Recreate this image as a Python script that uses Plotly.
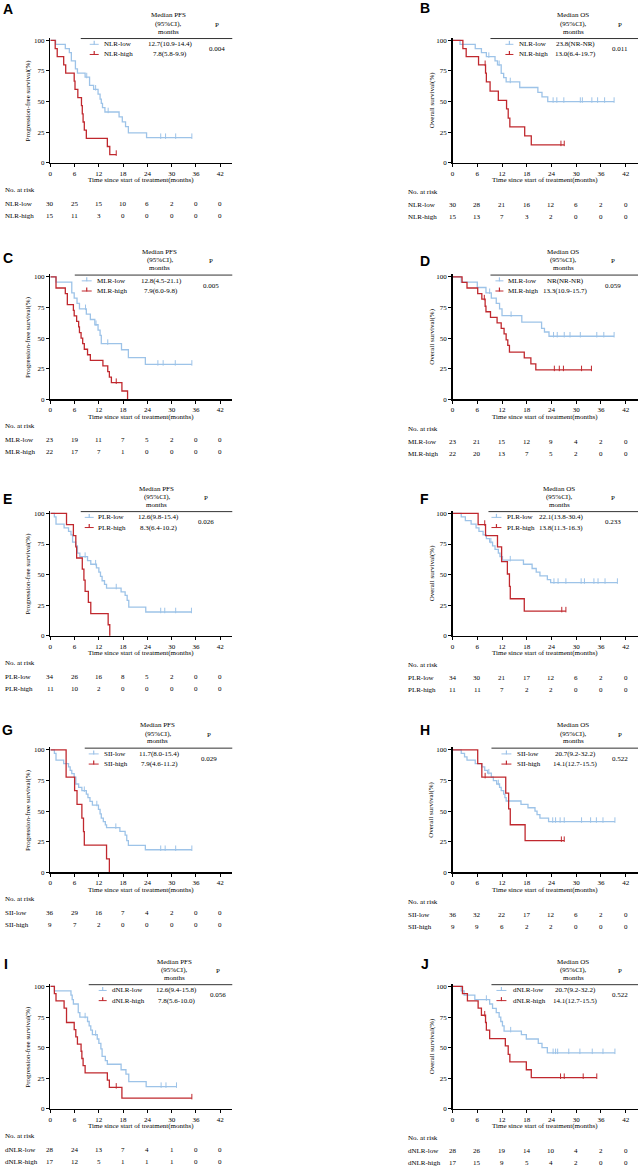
import plotly.graph_objects as go

W, H = 638, 1171
BLUE = "#9DC3E8"
RED = "#C0282E"
FONT = "Liberation Serif"
FS = 7

# ---------------- data ----------------
TICKS = [0, 6, 12, 18, 24, 30, 36, 42]
Y_TICKS = [0, 25, 50, 75, 100]
LETTERS = ["A", "B", "C", "D", "E", "F", "G", "H", "I", "J"]
MARKERS = ["NLR", "NLR", "MLR", "MLR", "PLR", "PLR", "SII", "SII", "dNLR", "dNLR"]
ENDPOINT = ["PFS", "OS", "PFS", "OS", "PFS", "OS", "PFS", "OS", "PFS", "OS"]
Y_TITLES = {"PFS": "Progression-free survival(%)", "OS": "Overall survival(%)"}
X_TITLE = "Time since start of treatment(months)"

MED_LOW = ["12.7(10.9-14.4)", "23.8(NR-NR)", "12.8(4.5-21.1)", "NR(NR-NR)", "12.6(9.8-15.4)",
           "22.1(13.8-30.4)", "11.7(8.0-15.4)", "20.7(9.2-32.2)", "12.6(9.4-15.8)", "20.7(9.2-32.2)"]
MED_HIGH = ["7.8(5.8-9.9)", "13.0(6.4-19.7)", "7.9(6.0-9.8)", "13.3(10.9-15.7)", "8.3(6.4-10.2)",
            "13.8(11.3-16.3)", "7.9(4.6-11.2)", "14.1(12.7-15.5)", "7.8(5.6-10.0)", "14.1(12.7-15.5)"]
P_VALUES = ["0.004", "0.011", "0.005", "0.059", "0.026", "0.233", "0.029", "0.522", "0.056", "0.522"]

A_low_t = [1.3, 3.7, 4.7, 5.2, 6.2, 6.7, 8.6, 9.7, 10.7, 11.8, 12.3, 12.6, 12.9, 13.5, 17.0, 17.8, 18.6, 19.3, 23.8]
A_low_s = [96.7, 93.3, 90.0, 83.3, 76.7, 73.3, 70.0, 63.3, 60.0, 56.0, 52.0, 48.5, 45.0, 41.5, 37.5, 33.5, 29.5, 24.5, 20.5]
A_low_c = [9.0, 11.2, 14.3, 27.3, 28.5, 31.0, 35.0]
A_low_end = 35.0
A_high_t = [1.2, 1.7, 3.3, 3.8, 5.9, 6.1, 6.8, 7.7, 7.9, 8.1, 8.4, 8.9, 14.1, 14.7]
A_high_s = [93.3, 86.7, 80.0, 73.3, 66.7, 60.0, 53.3, 46.7, 40.0, 33.3, 26.7, 20.0, 13.3, 6.7]
A_high_c = [16.3]
A_high_end = 16.3

B_low_t = [1.8, 5.5, 7.0, 8.2, 10.3, 10.9, 11.8, 12.4, 13.0, 16.3, 20.7, 21.7, 23.1]
B_low_s = [96.7, 93.3, 90.0, 86.7, 83.3, 80.0, 73.0, 69.5, 66.0, 61.5, 57.5, 53.8, 50.0]
B_low_c = [8.8, 11.3, 14.0, 24.4, 25.3, 27.0, 31.0, 31.5, 33.8, 35.2, 36.9, 39.2]
B_low_end = 39.2
B_high_t = [2.5, 3.3, 6.3, 8.0, 8.2, 9.1, 11.1, 13.1, 13.5, 13.9, 17.5, 19.1]
B_high_s = [93.3, 86.7, 80.0, 73.3, 66.0, 58.5, 51.0, 44.0, 36.5, 29.3, 22.0, 14.6]
B_high_c = [7.9, 26.3, 27.1]
B_high_end = 27.1

C_low_t = [1.4, 5.3, 5.9, 6.6, 7.2, 8.9, 9.9, 11.0, 11.8, 12.3, 12.6, 17.6, 19.3, 23.5]
C_low_s = [95.7, 87.0, 82.6, 78.3, 73.9, 69.6, 65.2, 60.9, 56.5, 52.2, 45.5, 40.5, 34.0, 28.5]
C_low_c = [8.7, 11.3, 14.2, 26.6, 27.9, 30.9, 35.0]
C_low_end = 35.0
C_high_t = [1.4, 3.7, 4.2, 5.7, 5.9, 6.5, 7.0, 7.2, 7.6, 8.0, 8.4, 9.2, 9.9, 13.0, 14.2, 14.6, 15.1, 17.7, 19.1]
C_high_s = [90.9, 86.4, 77.3, 72.7, 68.2, 63.6, 59.1, 54.5, 50.0, 45.5, 40.9, 36.4, 31.8, 27.3, 22.7, 18.2, 13.6, 6.8, 0.0]
C_high_c = [16.3]
C_high_end = 19.1

D_low_t = [2.1, 6.0, 8.1, 9.4, 10.6, 11.4, 12.0, 16.8, 21.6, 22.3, 23.4]
D_low_s = [95.7, 91.3, 87.0, 82.6, 78.3, 73.9, 68.3, 63.0, 58.0, 55.0, 51.5]
D_low_c = [9.0, 14.2, 24.5, 25.4, 27.1, 28.5, 31.0, 35.0, 36.7, 39.2]
D_low_end = 39.2
D_high_t = [2.3, 3.5, 6.1, 7.1, 7.9, 8.1, 9.2, 10.8, 11.8, 12.5, 13.0, 13.4, 13.8, 17.4, 19.0, 20.2]
D_high_s = [95.5, 90.9, 86.4, 81.8, 76.0, 71.5, 67.0, 62.5, 58.0, 53.5, 48.5, 44.0, 38.5, 33.8, 29.0, 24.0]
D_high_c = [7.7, 24.7, 25.9, 26.9, 31.3, 33.7]
D_high_end = 33.7

E_low_t = [1.0, 1.4, 3.4, 4.5, 5.1, 5.5, 6.3, 6.7, 7.3, 9.2, 10.0, 11.4, 12.0, 12.4, 12.8, 13.4, 13.9, 17.5, 18.5, 19.0, 19.4, 23.6]
E_low_s = [97.1, 91.2, 88.2, 85.3, 82.4, 76.5, 73.5, 67.6, 64.7, 61.5, 58.5, 55.5, 52.0, 48.5, 45.0, 42.0, 39.0, 36.0, 33.0, 29.0, 23.5, 19.5]
E_low_c = [8.6, 11.2, 16.3, 27.3, 28.3, 31.0, 34.9]
E_low_end = 34.9
E_high_t = [4.0, 5.7, 6.3, 6.5, 7.9, 8.3, 8.6, 9.4, 10.0, 14.3, 14.7]
E_high_s = [90.9, 81.8, 72.7, 63.6, 54.5, 45.5, 36.4, 27.3, 18.2, 9.1, 0.0]
E_high_c = []
E_high_end = 14.7

F_low_t = [2.1, 3.1, 4.5, 5.7, 6.4, 7.4, 8.2, 9.0, 9.7, 10.3, 11.1, 11.5, 12.1, 17.2, 19.3, 20.3, 21.2, 23.0, 23.8]
F_low_s = [97.1, 94.1, 91.2, 88.2, 85.3, 82.4, 79.4, 76.5, 73.5, 70.6, 67.6, 64.7, 61.8, 58.5, 55.0, 52.0, 49.0, 46.0, 43.5]
F_low_c = [9.3, 14.0, 24.6, 25.6, 27.5, 31.2, 32.0, 34.3, 35.3, 37.0, 40.0]
F_low_end = 40.0
F_high_t = [6.2, 8.0, 10.9, 11.9, 13.3, 13.8, 14.0, 17.4]
F_high_s = [90.9, 81.8, 72.7, 60.6, 50.5, 40.4, 30.3, 20.2]
F_high_c = [7.8, 26.5, 27.5]
F_high_end = 27.5

G_low_t = [1.0, 1.4, 3.3, 4.5, 4.9, 5.3, 5.9, 6.3, 7.0, 7.8, 8.9, 9.3, 9.8, 10.4, 11.9, 12.3, 12.6, 13.1, 13.6, 13.9, 17.2, 18.5, 18.9, 19.3, 23.5]
G_low_s = [97.2, 91.7, 88.9, 86.1, 83.3, 80.6, 77.8, 72.2, 69.4, 66.7, 63.9, 61.0, 58.0, 55.0, 51.5, 47.8, 44.4, 41.5, 38.8, 36.5, 33.5, 30.5, 26.0, 22.0, 18.5]
G_low_c = [8.4, 11.5, 16.2, 27.3, 28.4, 31.0, 35.0]
G_low_end = 35.0
G_high_t = [3.9, 6.0, 6.6, 7.8, 8.2, 8.4, 13.9, 14.6]
G_high_s = [77.8, 66.7, 55.6, 44.4, 33.3, 22.2, 11.1, 0.0]
G_high_c = []
G_high_end = 14.6

H_low_t = [2.1, 2.9, 3.5, 5.5, 7.1, 7.8, 8.5, 9.4, 9.9, 10.7, 11.4, 11.8, 12.4, 12.7, 13.0, 16.6, 18.3, 20.0, 20.5, 21.2, 23.3]
H_low_s = [97.2, 94.4, 91.7, 88.9, 86.1, 83.3, 81.0, 77.8, 75.0, 72.2, 69.4, 66.7, 63.9, 61.0, 58.3, 55.5, 52.8, 50.0, 47.2, 44.4, 41.5]
H_low_c = [8.8, 11.1, 24.3, 25.0, 26.1, 27.1, 31.3, 33.5, 34.9, 36.5, 39.4]
H_low_end = 39.4
H_high_t = [6.1, 7.1, 12.9, 13.6, 14.0, 17.6]
H_high_s = [88.9, 77.8, 64.8, 51.9, 38.9, 25.9]
H_high_c = [7.9, 26.4, 27.1]
H_high_end = 27.1

I_low_t = [1.0, 5.1, 5.4, 5.7, 6.9, 7.3, 9.2, 9.6, 10.0, 10.4, 11.6, 12.0, 12.5, 12.8, 13.6, 14.1, 17.5, 18.7, 19.4, 23.7]
I_low_s = [96.4, 92.9, 89.3, 85.7, 78.6, 75.0, 71.4, 67.9, 64.3, 60.7, 57.1, 53.6, 49.0, 43.0, 39.5, 36.5, 32.0, 28.5, 22.3, 18.2]
I_low_c = [8.6, 11.2, 27.4, 28.6, 31.2]
I_low_end = 31.2
I_high_t = [1.0, 1.4, 3.4, 4.0, 5.9, 6.3, 6.7, 7.6, 7.8, 8.1, 8.6, 14.1, 14.6, 17.7]
I_high_s = [94.1, 88.2, 82.4, 70.6, 64.7, 58.8, 52.9, 47.1, 41.2, 35.3, 29.4, 23.5, 17.6, 8.8]
I_high_c = [16.3, 35.0]
I_high_end = 35.0

J_low_t = [2.1, 2.8, 5.4, 9.0, 9.7, 10.6, 11.3, 11.7, 12.1, 12.5, 16.7, 17.9, 20.8, 21.7, 23.0]
J_low_s = [96.4, 92.9, 89.3, 85.7, 82.1, 78.6, 75.0, 71.4, 67.9, 63.5, 60.7, 57.1, 53.6, 50.0, 45.8]
J_low_c = [8.2, 14.1, 24.4, 25.0, 25.5, 28.2, 30.9, 33.9, 36.5, 39.4]
J_low_end = 39.4
J_high_t = [2.4, 3.6, 6.2, 7.0, 8.0, 8.2, 9.0, 12.8, 13.5, 13.9, 17.9, 19.1]
J_high_s = [94.1, 88.2, 82.4, 76.5, 70.6, 64.3, 57.4, 51.5, 44.6, 38.5, 32.0, 25.5]
J_high_c = [7.8, 26.2, 27.1, 31.7, 35.0]
J_high_end = 35.0

A_risk_low = [30, 25, 15, 10, 6, 2, 0, 0]
A_risk_high = [15, 11, 3, 0, 0, 0, 0, 0]
B_risk_low = [30, 28, 21, 16, 12, 6, 2, 0]
B_risk_high = [15, 13, 7, 3, 2, 0, 0, 0]
C_risk_low = [23, 19, 11, 7, 5, 2, 0, 0]
C_risk_high = [22, 17, 7, 1, 0, 0, 0, 0]
D_risk_low = [23, 21, 15, 12, 9, 4, 2, 0]
D_risk_high = [22, 20, 13, 7, 5, 2, 0, 0]
E_risk_low = [34, 26, 16, 8, 5, 2, 0, 0]
E_risk_high = [11, 10, 2, 0, 0, 0, 0, 0]
F_risk_low = [34, 30, 21, 17, 12, 6, 2, 0]
F_risk_high = [11, 11, 7, 2, 2, 0, 0, 0]
G_risk_low = [36, 29, 16, 7, 4, 2, 0, 0]
G_risk_high = [9, 7, 2, 0, 0, 0, 0, 0]
H_risk_low = [36, 32, 22, 17, 12, 6, 2, 0]
H_risk_high = [9, 9, 6, 2, 2, 0, 0, 0]
I_risk_low = [28, 24, 13, 7, 4, 1, 0, 0]
I_risk_high = [17, 12, 5, 1, 1, 1, 0, 0]
J_risk_low = [28, 26, 19, 14, 10, 4, 2, 0]
J_risk_high = [17, 15, 9, 5, 4, 2, 0, 0]

CURVES = [
    ((A_low_t, A_low_s, A_low_c, A_low_end), (A_high_t, A_high_s, A_high_c, A_high_end)),
    ((B_low_t, B_low_s, B_low_c, B_low_end), (B_high_t, B_high_s, B_high_c, B_high_end)),
    ((C_low_t, C_low_s, C_low_c, C_low_end), (C_high_t, C_high_s, C_high_c, C_high_end)),
    ((D_low_t, D_low_s, D_low_c, D_low_end), (D_high_t, D_high_s, D_high_c, D_high_end)),
    ((E_low_t, E_low_s, E_low_c, E_low_end), (E_high_t, E_high_s, E_high_c, E_high_end)),
    ((F_low_t, F_low_s, F_low_c, F_low_end), (F_high_t, F_high_s, F_high_c, F_high_end)),
    ((G_low_t, G_low_s, G_low_c, G_low_end), (G_high_t, G_high_s, G_high_c, G_high_end)),
    ((H_low_t, H_low_s, H_low_c, H_low_end), (H_high_t, H_high_s, H_high_c, H_high_end)),
    ((I_low_t, I_low_s, I_low_c, I_low_end), (I_high_t, I_high_s, I_high_c, I_high_end)),
    ((J_low_t, J_low_s, J_low_c, J_low_end), (J_high_t, J_high_s, J_high_c, J_high_end)),
]
RISKS = [(A_risk_low, A_risk_high), (B_risk_low, B_risk_high), (C_risk_low, C_risk_high),
         (D_risk_low, D_risk_high), (E_risk_low, E_risk_high), (F_risk_low, F_risk_high),
         (G_risk_low, G_risk_high), (H_risk_low, H_risk_high), (I_risk_low, I_risk_high),
         (J_risk_low, J_risk_high)]

# ---------------- layout (pixel positions) ----------------
ROW = 237.55
X_DOM_PX = {0: (48.5, 231.0), 1: (452.0, 638.0)}
# header centre, P centre, line start, marker start, marker end, label x, letter x, letter y
LEG = [
    (167, 216, 79, 88, 97, 100, 6, 8),
    (573, 620, 490, 505, 513, 517, 424, 7),
    (158, 210, 73, 80, 90, 93, 6, 21),
    (563, 613, 490, 495, 503, 506, 424, 24),
    (155, 205, 79, 83, 92, 94, 6, 25),
    (559, 613, 488, 491, 501, 505, 424, 25),
    (156, 208, 83, 87, 97, 100, 6, 19),
    (573, 620, 491, 501, 511, 515, 424, 19),
    (173, 217, 87, 97, 105, 108, 4, 17),
    (573, 620, 491, 496, 506, 511, 424, 17),
]

fig = go.Figure()
annotations = []
shapes = []


def pa(x, y, text, size=FS, xanchor="center", family=FONT, angle=0, xref="paper"):
    annotations.append(dict(
        x=x / W if xref == "paper" else x, y=1 - y / H, xref=xref, yref="paper",
        text=text, showarrow=False, xanchor=xanchor, yanchor="middle", textangle=angle,
        font=dict(size=size, family=family, color="black")))


def pline(x0, y0, x1, y1, color, width):
    shapes.append(dict(type="line", xref="paper", yref="paper", x0=x0 / W, x1=x1 / W,
                       y0=1 - y0 / H, y1=1 - y1 / H, line=dict(color=color, width=width)))


def surv_at(ts, ss, t):
    v = 100.0
    for a, b in zip(ts, ss):
        if a <= t:
            v = b
    return v


for i in range(10):
    r, c = divmod(i, 2)
    b = r * ROW
    ax = i + 1
    xk = "x" if ax == 1 else f"x{ax}"
    yk = "y" if ax == 1 else f"y{ax}"
    x0p, x1p = X_DOM_PX[c]
    ytop = b + 39.5 - 2 * 1.23
    ybot = b + 162.5
    fig.layout[f"xaxis{'' if ax == 1 else ax}"] = dict(
        domain=[x0p / W, x1p / W], range=[0, 45], tickvals=TICKS, ticks="outside", ticklen=3,
        tickwidth=1, tickcolor="black", showline=True, linecolor="black", linewidth=1.5,
        showgrid=False, zeroline=False, anchor=yk,
        tickfont=dict(size=FS, family=FONT, color="black"))
    fig.layout[f"yaxis{'' if ax == 1 else ax}"] = dict(
        domain=[1 - ybot / H, 1 - ytop / H], range=[0, 102], tickvals=Y_TICKS, ticks="outside",
        ticklen=3, tickwidth=1, tickcolor="black", showline=True, linecolor="black",
        linewidth=1.5, showgrid=False, zeroline=False, anchor=xk,
        tickfont=dict(size=FS, family=FONT, color="black"))

    for (ts, ss, cs, end), col in zip(CURVES[i], (BLUE, RED)):
        xs = [0] + list(ts) + [end]
        ys = [100] + list(ss) + [ss[-1]]
        fig.add_trace(go.Scatter(x=xs, y=ys, mode="lines", line=dict(color=col, width=1.3, shape="hv"),
                                 xaxis=xk, yaxis=yk, showlegend=False, hoverinfo="skip"))
        cx, cy = [], []
        for t in cs:
            v = surv_at(ts, ss, t)
            cx += [t, t, None]
            cy += [v - 1, v + 3.5, None]
        if cx:
            fig.add_trace(go.Scatter(x=cx, y=cy, mode="lines", line=dict(color=col, width=1),
                                     xaxis=xk, yaxis=yk, showlegend=False, hoverinfo="skip"))

    # axis titles
    ytx = 26 if c == 0 else 431
    pa(ytx, b + 100, Y_TITLES[ENDPOINT[i]], angle=-90)
    pa((x0p + x1p) / 2, b + 180, X_TITLE)

    # legend table
    hc, pc, lx0, mk0, mk1, tx, ltx, lty = LEG[i]
    lx1 = 231 if c == 0 else 638
    pa(hc, b + 14.5, f"Median {ENDPOINT[i]}")
    pa(hc, b + 23, "(95%CI),")
    pa(hc, b + 31, "months")
    pa(pc, b + 24, "P")
    pline(lx0, b + 37.7, lx1, b + 37.7, "#333333", 1)
    for k, (lab, med, col) in enumerate(((f"{MARKERS[i]}-low", MED_LOW[i], BLUE),
                                          (f"{MARKERS[i]}-high", MED_HIGH[i], RED))):
        yy = b + 43.5 + k * 10.2
        pline(mk0, yy, mk1, yy, col, 1)
        pline((mk0 + mk1) / 2, yy + 0.5, (mk0 + mk1) / 2, yy - 3.5, col, 1.2)
        pa(tx, yy, lab, xanchor="left")
        pa(hc + 2, yy, med)
    pa(pc, b + 48.5, P_VALUES[i])
    pa(ltx, b + lty, f"<b>{LETTERS[i]}</b>", size=14, family="Liberation Sans")

    # risk table
    rlx = 1 if c == 0 else 405
    ry = (b + 189.5, b + 203.5, b + 215.5) if c == 0 else (b + 192, b + 205, b + 217)
    pa(rlx, ry[0], "No. at risk", xanchor="left")
    for k, (lab, vals) in enumerate(((f"{MARKERS[i]}-low", RISKS[i][0]),
                                      (f"{MARKERS[i]}-high", RISKS[i][1]))):
        pa(rlx, ry[k + 1], lab, xanchor="left")
        for t, v in zip(TICKS, vals):
            pa(t, ry[k + 1], str(v), xref=xk)

fig.update_layout(width=W, height=H, margin=dict(l=0, r=0, t=0, b=0),
                  paper_bgcolor="white", plot_bgcolor="white", showlegend=False,
                  annotations=annotations, shapes=shapes)
fig.write_html("out.html", config={"displayModeBar": False, "staticPlot": True},
               post_script="document.body.style.margin='0';document.body.style.padding='0';"
                           "document.body.style.overflow='hidden';"
                           "document.documentElement.style.overflow='hidden';")
